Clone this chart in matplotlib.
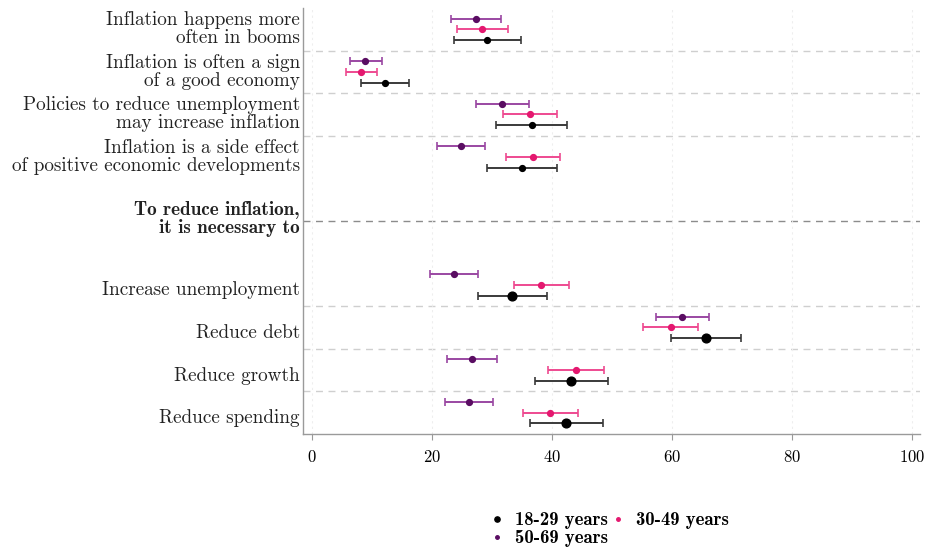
import numpy as np
import matplotlib
matplotlib.use("Agg")
import matplotlib.pyplot as plt
import matplotlib.transforms as mtransforms

plt.rcParams['font.family'] = ['cmr10', 'DejaVu Serif']
plt.rcParams['axes.formatter.use_mathtext'] = True

# statements (top block) and policies (bottom block)
labels_top = ["Inflation happens more\noften in booms",
              "Inflation is often a sign\nof a good economy",
              "Policies to reduce unemployment\nmay increase inflation",
              "Inflation is a side effect\nof positive economic developments"]
labels_bottom = ["Increase unemployment", "Reduce debt", "Reduce growth", "Reduce spending"]
header = "To reduce inflation,\nit is necessary to"

# share agreeing (%) with 95% CI, per age group, same order as labels
young_mean = [29.2, 12.1, 36.6, 35.0, 33.4, 65.7, 43.2, 42.3]
young_lo = [23.6, 8.1, 30.7, 29.2, 27.7, 59.9, 37.2, 36.4]
young_hi = [34.8, 16.1, 42.5, 40.9, 39.2, 71.6, 49.3, 48.5]

mid_mean = [28.4, 8.2, 36.3, 36.9, 38.2, 59.8, 44.0, 39.7]
mid_lo = [24.2, 5.7, 31.9, 32.4, 33.7, 55.2, 39.4, 35.2]
mid_hi = [32.7, 10.8, 40.9, 41.4, 42.8, 64.3, 48.6, 44.3]

old_mean = [27.3, 8.9, 31.7, 24.8, 23.7, 61.7, 26.6, 26.2]
old_lo = [23.2, 6.3, 27.4, 20.8, 19.7, 57.3, 22.5, 22.1]
old_hi = [31.5, 11.6, 36.1, 28.9, 27.7, 66.2, 30.8, 30.2]

xticks = [0, 20, 40, 60, 80, 100]

pos = np.array([0, 1, 2, 3, 6, 7, 8, 9], dtype=float)

fig = plt.figure(figsize=(9.28, 5.5), dpi=100)
ax = fig.add_axes([0.3265, 0.211, 0.991 - 0.3265, 0.9855 - 0.211])

series = [
    ("18-29 years", young_mean, young_lo, young_hi, 0.25, "#000000", "#3a3a3a"),
    ("30-49 years", mid_mean, mid_lo, mid_hi, 0.0, "#e4186f", "#ee4a90"),
    ("50-69 years", old_mean, old_lo, old_hi, -0.25, "#5a0d62", "#9a47a2"),
]

handles = {}
for name, m, lo, hi, off, mc, ec in series:
    m = np.array(m); lo = np.array(lo); hi = np.array(hi)
    y = pos + off
    ax.errorbar(m, y, xerr=[m - lo, hi - m], fmt='none', ecolor=ec,
                elinewidth=1.4, capsize=3, capthick=1.2, zorder=3)
    if name == "18-29 years":
        ax.plot(m[:4], y[:4], 'o', color=mc, ms=4.2, zorder=4)
        h, = ax.plot(m[4:], y[4:], 'o', color=mc, ms=6.3, zorder=4)
    else:
        h, = ax.plot(m, y, 'o', color=mc, ms=4.2, zorder=4)
    handles[name] = h

# separators
for s in [0.5, 1.5, 2.5, 6.5, 7.5, 8.5]:
    ax.axhline(s, color="#cfcfcf", lw=1, ls=(0, (5, 4)), zorder=1)
ax.axhline(4.5, color="#8c8c8c", lw=1, ls=(0, (5, 4)), zorder=1)

ax.set_xlim(-1.5, 101.3)
ax.set_ylim(9.5, -0.5)
ax.set_xticks(xticks)
ax.grid(axis='x', color="#eeeeee", lw=0.8, ls=(0, (2, 3)), zorder=0)
ax.set_yticks([])
ax.tick_params(axis='x', length=4, color="#999999", labelsize=12, pad=7)

for sp in ["top", "right"]:
    ax.spines[sp].set_visible(False)
for sp in ["left", "bottom"]:
    ax.spines[sp].set_color("#9a9a9a")
    ax.spines[sp].set_linewidth(1.0)

trans = mtransforms.blended_transform_factory(ax.transAxes, ax.transData)
lx = -0.005
for p, lab in zip(pos[:4], labels_top):
    ax.text(lx, p, lab, transform=trans, ha='right', va='center', fontsize=13.8,
            linespacing=1.0, color="#222222")
for p, lab in zip(pos[4:], labels_bottom):
    ax.text(lx, p + 0.13, lab, transform=trans, ha='right', va='center', fontsize=13.8,
            color="#222222")
ax.text(lx, 4.45, header, transform=trans, ha='right', va='center', fontsize=13.8,
        linespacing=1.0, color="#222222", family=['cmb10', 'DejaVu Serif'])

order = ["18-29 years", "50-69 years", "30-49 years"]
leg = fig.legend([handles[k] for k in order], order, ncol=2, loc='center',
                 bbox_to_anchor=(0.658, 0.038), frameon=False, handlelength=0.5,
                 handletextpad=0.7, columnspacing=0.3, labelspacing=0.0,
                 markerscale=0.6, prop={'family': ['cmb10', 'DejaVu Serif'], 'size': 13.5})

fig.savefig("out.png", dpi=100)
